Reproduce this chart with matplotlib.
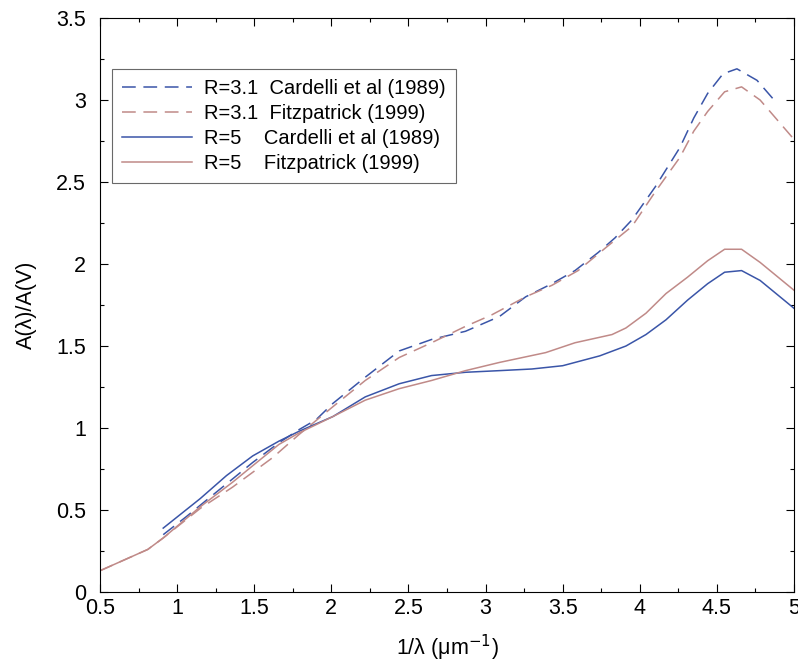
import matplotlib.pyplot as plt
from matplotlib.ticker import MultipleLocator

plt.rcParams['font.family'] = ['Liberation Sans', 'DejaVu Sans']

# R=3.1, Cardelli et al (1989)
x_ccm31 = [0.91, 1.06, 1.19, 1.36, 1.49, 1.66, 1.79, 1.90, 2.01, 2.22, 2.44, 2.65, 2.87,
           3.09, 3.26, 3.43, 3.58, 3.73, 3.84, 3.95, 4.10, 4.26, 4.35, 4.44, 4.54, 4.63,
           4.76, 4.88]
y_ccm31 = [0.35, 0.46, 0.56, 0.69, 0.79, 0.91, 0.99, 1.05, 1.15, 1.31, 1.47, 1.54, 1.59,
           1.68, 1.80, 1.88, 1.96, 2.07, 2.16, 2.27, 2.47, 2.71, 2.89, 3.04, 3.16, 3.19,
           3.12, 2.99]

# R=3.1, Fitzpatrick (1999)
x_f99_31 = [0.5, 0.81, 0.91, 1.15, 1.36, 1.49, 1.62, 1.79, 2.01, 2.22, 2.44, 2.65, 2.87,
            3.04, 3.26, 3.43, 3.60, 3.78, 3.95, 4.10, 4.26, 4.35, 4.44, 4.55, 4.66, 4.78,
            5.0]
y_f99_31 = [0.13, 0.26, 0.33, 0.51, 0.64, 0.73, 0.82, 0.96, 1.13, 1.29, 1.43, 1.52, 1.62,
            1.69, 1.80, 1.87, 1.96, 2.10, 2.23, 2.44, 2.65, 2.81, 2.93, 3.05, 3.08, 3.00,
            2.76]

# R=5, Cardelli et al (1989)
x_ccm5 = [0.91, 1.15, 1.32, 1.49, 1.66, 1.79, 2.01, 2.22, 2.44, 2.65, 2.87, 3.09, 3.30,
          3.50, 3.74, 3.91, 4.04, 4.17, 4.31, 4.44, 4.55, 4.66, 4.78, 5.0]
y_ccm5 = [0.39, 0.57, 0.71, 0.83, 0.92, 0.98, 1.07, 1.19, 1.27, 1.32, 1.34, 1.35, 1.36,
          1.38, 1.44, 1.50, 1.57, 1.66, 1.78, 1.88, 1.95, 1.96, 1.90, 1.73]

# R=5, Fitzpatrick (1999)
x_f99_5 = [0.5, 0.81, 0.91, 1.15, 1.36, 1.49, 1.66, 1.79, 2.01, 2.22, 2.44, 2.65, 2.87,
           3.09, 3.39, 3.58, 3.82, 3.91, 4.04, 4.17, 4.31, 4.44, 4.55, 4.66, 4.78, 5.0]
y_f99_5 = [0.13, 0.26, 0.33, 0.52, 0.67, 0.77, 0.90, 0.97, 1.07, 1.17, 1.24, 1.29, 1.35,
           1.40, 1.46, 1.52, 1.57, 1.61, 1.70, 1.82, 1.92, 2.02, 2.09, 2.09, 2.01, 1.84]

blue = '#3a55a8'
brown = '#c08a88'

fig = plt.figure(figsize=(7.98, 6.66), dpi=100)
ax = fig.add_axes([0.1253, 0.111, 0.8697, 0.862])

ax.plot(x_ccm31, y_ccm31, color=blue, lw=1.1, dashes=(9, 5),
        label='R=3.1  Cardelli et al (1989)')
ax.plot(x_f99_31, y_f99_31, color=brown, lw=1.1, dashes=(9, 5),
        label='R=3.1  Fitzpatrick (1999)')
ax.plot(x_ccm5, y_ccm5, color=blue, lw=1.1, label='R=5    Cardelli et al (1989)')
ax.plot(x_f99_5, y_f99_5, color=brown, lw=1.1, label='R=5    Fitzpatrick (1999)')

ax.set_xlim(0.5, 5)
ax.set_ylim(0, 3.5)
ax.xaxis.set_major_locator(MultipleLocator(0.5))
ax.xaxis.set_minor_locator(MultipleLocator(0.25))
ax.yaxis.set_major_locator(MultipleLocator(0.5))
ax.yaxis.set_minor_locator(MultipleLocator(0.25))
ax.set_xticklabels([f'{v:g}' for v in ax.get_xticks()])
ax.set_yticklabels([f'{v:g}' for v in ax.get_yticks()])
ax.tick_params(which='both', direction='in', top=True, right=True, labelsize=15.5)
ax.tick_params(which='major', length=6, width=0.8)
ax.tick_params(which='minor', length=3, width=0.8)
ax.tick_params(axis='x', pad=4)
ax.tick_params(axis='y', pad=10)
for s in ax.spines.values():
    s.set_linewidth(0.8)

ax.set_xlabel('1/λ (μm$^{-1}$)', fontsize=15.5, labelpad=10)
ax.set_ylabel('A(λ)/A(V)', fontsize=15.5, labelpad=14)

leg = ax.legend(loc='upper left', bbox_to_anchor=(0.017, 0.911), fontsize=14.5,
                frameon=True, fancybox=False, edgecolor='#444444', handlelength=3.5,
                labelspacing=0.3, borderpad=0.5, handletextpad=0.6, borderaxespad=0)
leg.get_frame().set_linewidth(0.8)

fig.savefig('out.png', dpi=100)
